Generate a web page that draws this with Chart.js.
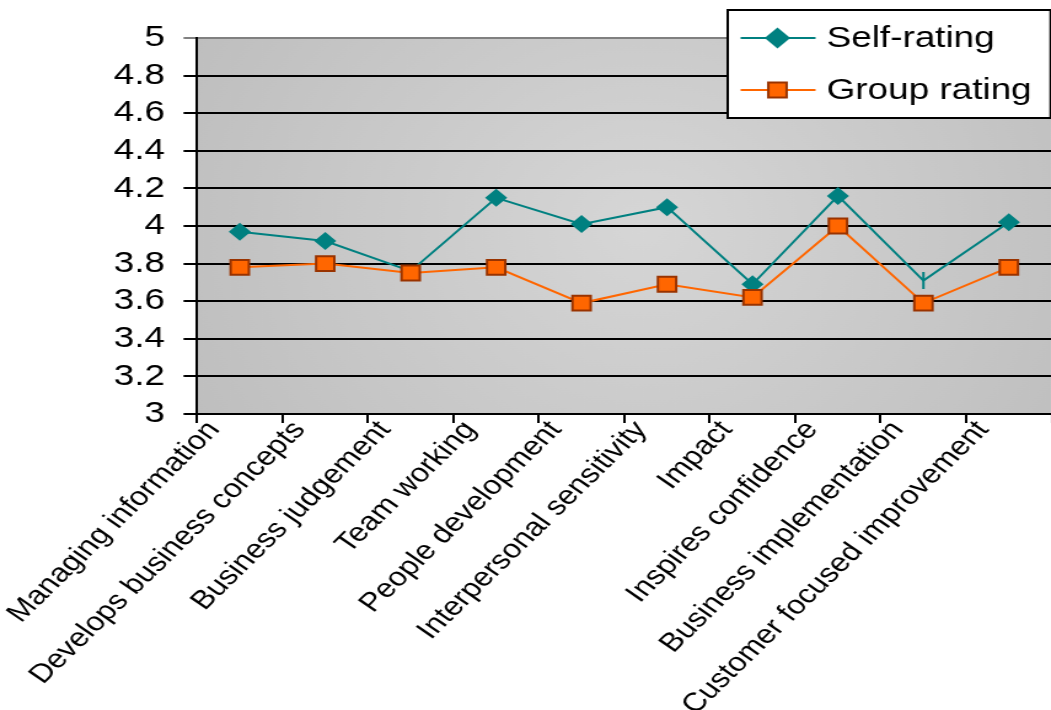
<!DOCTYPE html>
<html>
<head>
<meta charset="utf-8">
<script src="https://cdn.jsdelivr.net/npm/chart.js@4.4.1/dist/chart.umd.min.js"></script>
<style>
  html, body { margin: 0; padding: 0; background: #fff; overflow: hidden; }
  /* chart is drawn narrow and widened, the way the old sheet export looks;
     the extra width on the right only holds the axis label padding and is cut off */
  #wrap { position: absolute; left: 0; top: 0; width: 868px; height: 710px;
          transform: scaleX(1.2292); transform-origin: 0 0; }
</style>
</head>
<body>
<div id="wrap"><canvas id="ratings"></canvas></div>
<script>
const categories = ['Managing information', 'Develops business concepts', 'Business judgement',
  'Team working', 'People development', 'Interpersonal sensitivity', 'Impact',
  'Inspires confidence', 'Business implementation', 'Customer focused improvement'];
const selfRating  = [3.97, 3.92, 3.76, 4.15, 4.01, 4.10, 3.69, 4.16, 3.71, 4.02];
const groupRating = [3.78, 3.80, 3.75, 3.78, 3.59, 3.69, 3.62, 4.00, 3.59, 3.78];
const seriesNames = ['Self-rating', 'Group rating'];
const yMin = 3, yMax = 5, yStep = 0.2;

const TEAL = '#008080', ORANGE = '#FF6600', RUST = '#993300';
const FONT = "'Liberation Sans', Arial, sans-serif";

// shaded plot area, lighter in the middle
const plotBackground = {
  id: 'plotBackground',
  beforeDraw(chart) {
    const { ctx, chartArea: a } = chart;
    const cx = a.left + a.width * 0.52, cy = a.top + a.height * 0.5;
    const g = ctx.createRadialGradient(cx, cy, 0, cx, cy, a.width * 0.62);
    g.addColorStop(0, '#d6d6d6');
    g.addColorStop(1, '#bdbdbd');
    ctx.save();
    ctx.fillStyle = g;
    ctx.fillRect(a.left, a.top, a.width, a.height);
    ctx.restore();
  }
};

function marker(ctx, style, x, y, r, fill, stroke, bw) {
  ctx.beginPath();
  if (style === 'rectRot') {
    ctx.moveTo(x - r, y); ctx.lineTo(x, y - r); ctx.lineTo(x + r, y); ctx.lineTo(x, y + r);
    ctx.closePath();
  } else {
    const s = r * Math.SQRT1_2;
    ctx.rect(x - s, y - s, 2 * s, 2 * s);
  }
  ctx.fillStyle = fill;
  ctx.fill();
  if (bw) { ctx.lineWidth = bw; ctx.strokeStyle = stroke; ctx.stroke(); }
}

// boxed legend in the top right corner
const boxLegend = {
  id: 'boxLegend',
  afterDraw(chart) {
    const ctx = chart.ctx;
    const right = chart.chartArea.right - 0.8;
    const left = right - 262.7;
    ctx.save();
    ctx.fillStyle = '#fff';
    ctx.fillRect(left, 10, 262.7, 108);
    ctx.lineWidth = 2;
    ctx.strokeStyle = '#000';
    ctx.strokeRect(left, 10, 262.7, 108);
    const rows = [38, 90];
    chart.data.datasets.forEach((ds, i) => {
      const y = rows[i];
      ctx.beginPath();
      ctx.moveTo(left + 10.5, y); ctx.lineTo(left + 71.5, y);
      ctx.lineWidth = 2; ctx.strokeStyle = ds.borderColor; ctx.stroke();
      marker(ctx, ds.pointStyle[0] || ds.pointStyle, left + 40.5, y, ds.legendRadius,
        ds.pointBackgroundColor, ds.pointBorderColor, ds.pointBorderWidth);
      ctx.fillStyle = '#000';
      ctx.font = '30px ' + FONT;
      ctx.textBaseline = 'middle';
      ctx.fillText(ds.label, left + 80.5, y + 1);
    });
    ctx.restore();
  }
};

new Chart(document.getElementById('ratings'), {
  type: 'line',
  data: {
    labels: categories,
    datasets: [{
      label: seriesNames[0],
      data: selfRating,
      order: 1,
      borderColor: TEAL,
      borderWidth: 2,
      pointStyle: ['rectRot', 'rectRot', 'rectRot', 'rectRot', 'rectRot', 'rectRot', 'rectRot', 'rectRot', 'line', 'rectRot'],
      rotation: [0, 0, 0, 0, 0, 0, 0, 0, 90, 0],
      pointRadius: [9, 9, 0, 9, 9, 9, 9, 9, 8.5, 9],
      pointBackgroundColor: TEAL,
      pointBorderColor: TEAL,
      pointBorderWidth: [0, 0, 0, 0, 0, 0, 0, 0, 2, 0],
      legendRadius: 9,
      tension: 0
    }, {
      label: seriesNames[1],
      data: groupRating,
      order: 0,
      borderColor: ORANGE,
      borderWidth: 2,
      pointStyle: 'rect',
      pointRadius: 10.5,
      pointBackgroundColor: ORANGE,
      pointBorderColor: RUST,
      pointBorderWidth: 2,
      legendRadius: 10.5,
      tension: 0
    }]
  },
  options: {
    responsive: true,
    maintainAspectRatio: false,
    animation: false,
    layout: { padding: { top: 38, right: 0, bottom: 0, left: 0 } },
    plugins: { legend: { display: false }, tooltip: { enabled: false } },
    scales: {
      x: {
        offset: true,
        grid: { offset: true, drawOnChartArea: false, drawTicks: true, tickLength: 9, color: '#000', lineWidth: 2 },
        border: { color: '#000', width: 2 },
        ticks: {
          autoSkip: false, minRotation: 50, maxRotation: 50, padding: -8, labelOffset: -21,
          color: '#000', font: { family: FONT, size: 26.3 }
        },
        afterFit(scale) { scale.height = 296; }
      },
      y: {
        min: yMin, max: yMax,
        grid: {
          color: ctx => (ctx.tick && ctx.tick.value === yMax ? '#808080' : '#000'),
          lineWidth: 2, tickLength: 11, drawTicks: true
        },
        border: { color: '#000', width: 2 },
        ticks: {
          stepSize: yStep, autoSkip: false, padding: 15, color: '#000',
          font: { family: FONT, size: 30 },
          callback: v => String(Math.round(v * 10) / 10)
        },
        afterFit(scale) { scale.width = 160.3; }
      }
    }
  },
  plugins: [plotBackground, boxLegend]
});
</script>
</body>
</html>
